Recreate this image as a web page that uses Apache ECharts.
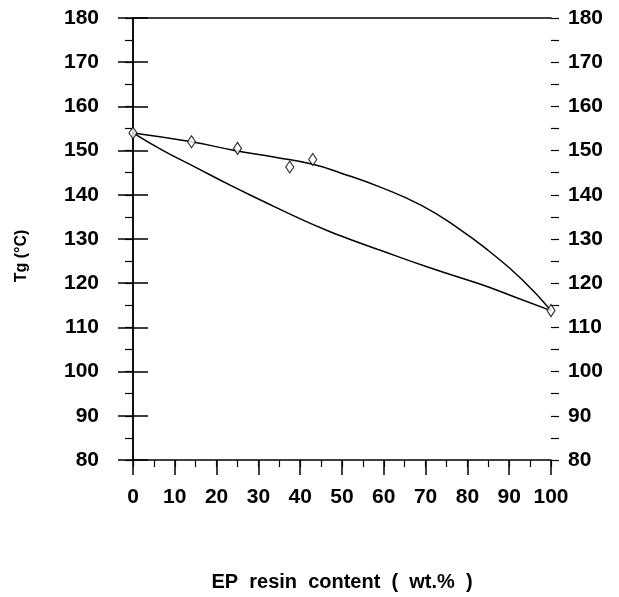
<!DOCTYPE html>
<html><head><meta charset="utf-8">
<script src="https://cdn.jsdelivr.net/npm/echarts@6/dist/echarts.min.js"></script>
<style>html,body{margin:0;padding:0;background:#fff}#c{width:619px;height:597px}</style>
</head><body><div id="c"></div>
<script>
var xTicks = [0,10,20,30,40,50,60,70,80,90,100];
var yTicks = [80,90,100,110,120,130,140,150,160,170,180];
var measuredX = [0, 14, 25, 37.5, 43, 100];
var measuredTg = [154, 152, 150.5, 146.3, 148, 113.8];
var upperX = [0, 14, 24, 34, 43, 49.5, 59, 69, 78, 85, 93, 100];
var upperTg = [154, 152, 150.1, 148.5, 146.9, 145.0, 141.8, 137.6, 132.3, 127.4, 120.9, 113.8];
var lowerX = [0, 7, 15, 23, 31, 39, 47, 52, 59, 71, 83, 91, 100];
var lowerTg = [154, 150.1, 146.2, 142.3, 138.6, 135.0, 131.7, 129.9, 127.5, 123.5, 119.8, 117.0, 113.8];

function zip(a,b){return a.map(function(v,i){return [v,b[i]];});}
var F = '"Liberation Sans", Arial, sans-serif';
var lab = {fontFamily:F, fontWeight:'bold', fontSize:21, color:'#000'};
var blackLine = {color:'#000', width:1.5};
function minorAxis(pos, min, max, len){
  return {type:'value', min:min, max:max, interval:5, position:pos,
    axisLine:{show:false}, axisTick:{show:true, inside:false, length:len, lineStyle:{color:'#000', width:1.2}},
    axisLabel:{show:false}, splitLine:{show:false}};
}
var chart = echarts.init(document.getElementById('c'));
chart.setOption({
  animation:false,
  grid:{left:133, right:68, top:18, bottom:133},
  xAxis:[{
    type:'value', min:0, max:100, interval:10, position:'bottom',
    name:'EP  resin  content  (  wt.%  )', nameLocation:'middle', nameGap:112,
    nameTextStyle:{fontFamily:F, fontWeight:'bold', fontSize:20, color:'#000'},
    axisLine:{lineStyle:blackLine},
    axisTick:{show:true, inside:false, length:15, lineStyle:blackLine},
    axisLabel:Object.assign({margin:27, formatter:function(v){return xTicks.indexOf(v)>=0?String(v):'';}}, lab),
    splitLine:{show:false}
  },{
    type:'value', min:0, max:100, position:'top',
    axisLine:{show:true, lineStyle:blackLine},
    axisTick:{show:false}, axisLabel:{show:false}, splitLine:{show:false}
  },
  minorAxis('bottom', 0, 100, 7)
  ],
  yAxis:[{
    type:'value', min:80, max:180, interval:10, position:'left',
    name:'Tg (°C)', nameLocation:'middle', nameGap:103, nameRotate:90,
    nameTextStyle:{fontFamily:F, fontWeight:'bold', fontSize:16, color:'#000', padding:[0,0,0,-34]},
    axisLine:{show:true, lineStyle:blackLine},
    axisTick:{show:true, inside:false, length:15, lineStyle:blackLine},
    axisLabel:Object.assign({margin:34, formatter:function(v){return yTicks.indexOf(v)>=0?String(v):'';}}, lab),
    splitLine:{show:false}
  },{
    type:'value', min:80, max:180, interval:10, position:'right',
    axisLine:{show:true, lineStyle:blackLine},
    axisTick:{show:true, inside:false, length:15, lineStyle:blackLine},
    axisLabel:Object.assign({margin:17, formatter:function(v){return yTicks.indexOf(v)>=0?String(v):'';}}, lab),
    splitLine:{show:false}
  },
  minorAxis('left', 80, 180, 8),
  minorAxis('right', 80, 180, 8)
  ],
  series:[
    {type:'line', data:zip(upperX, upperTg), smooth:0.5, symbol:'none', lineStyle:{color:'#000', width:1.5}, z:2},
    {type:'line', data:zip(lowerX, lowerTg), smooth:0.5, symbol:'none', lineStyle:{color:'#000', width:1.5}, z:2},
    {type:'scatter', data:zip(measuredX, measuredTg), symbol:'diamond', symbolSize:[8,12],
     itemStyle:{color:'#fff', borderColor:'#000', borderWidth:1.2}, z:5}
  ]
});
</script></body></html>
